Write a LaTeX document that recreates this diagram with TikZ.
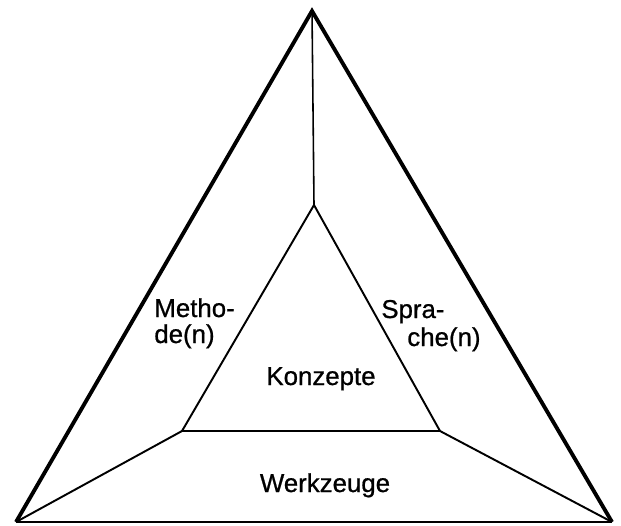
\documentclass[tikz,border=0pt]{standalone}
\usepackage{fontspec}
\setmainfont{Liberation Sans}
\newfontfamily\lblfont{Liberation Sans}[FakeBold=0.8]
\usetikzlibrary{positioning}

\begin{document}
\begin{tikzpicture}[x=0.02cm, y=-0.02cm,
    outer/.style={black, line width=2.2pt, line join=miter},
    inner/.style={black, line width=1.1pt, line join=miter},
    lbl/.style={inner sep=0pt, font=\lblfont\fontsize{14.7}{14.5}\selectfont}]
  \useasboundingbox (0,0) rectangle (621,525);

  % Ecken aussen und innen
  \coordinate (top) at (312,11);
  \coordinate (left) at (16,522);
  \coordinate (right) at (612,522);
  \coordinate (itop) at (314,205);
  \coordinate (ileft) at (182,431);
  \coordinate (iright) at (440,431);

  % Grosses Dreieck
  \draw[outer] (left) -- (top) -- (right);
  \draw[black, line width=1.2pt] (left) -- (right);

  % Inneres Dreieck
  \draw[inner] (itop) -- (ileft) -- (iright) -- cycle;

  % Verbindungen
  \draw[black, line width=0.9pt] (top) -- (itop);
  \draw[inner] (left) -- (ileft);
  \draw[inner] (right) -- (iright);

  % Beschriftung
  \node[lbl, anchor=base west] (metho) at (154,317) {Metho-};
  \node[lbl, anchor=base west] (methoB) at (154,343) {de(n)};
  \node[lbl, anchor=base west] (spra) at (381,318) {Spra-};
  \node[lbl, anchor=base west] (spraB) at (407,346) {che(n)};
  \node[lbl, anchor=base] (konz) at (321,385) {Konzepte};
  \node[lbl, anchor=base] (werk) at (325,492) {Werkzeuge};
\end{tikzpicture}
\end{document}
